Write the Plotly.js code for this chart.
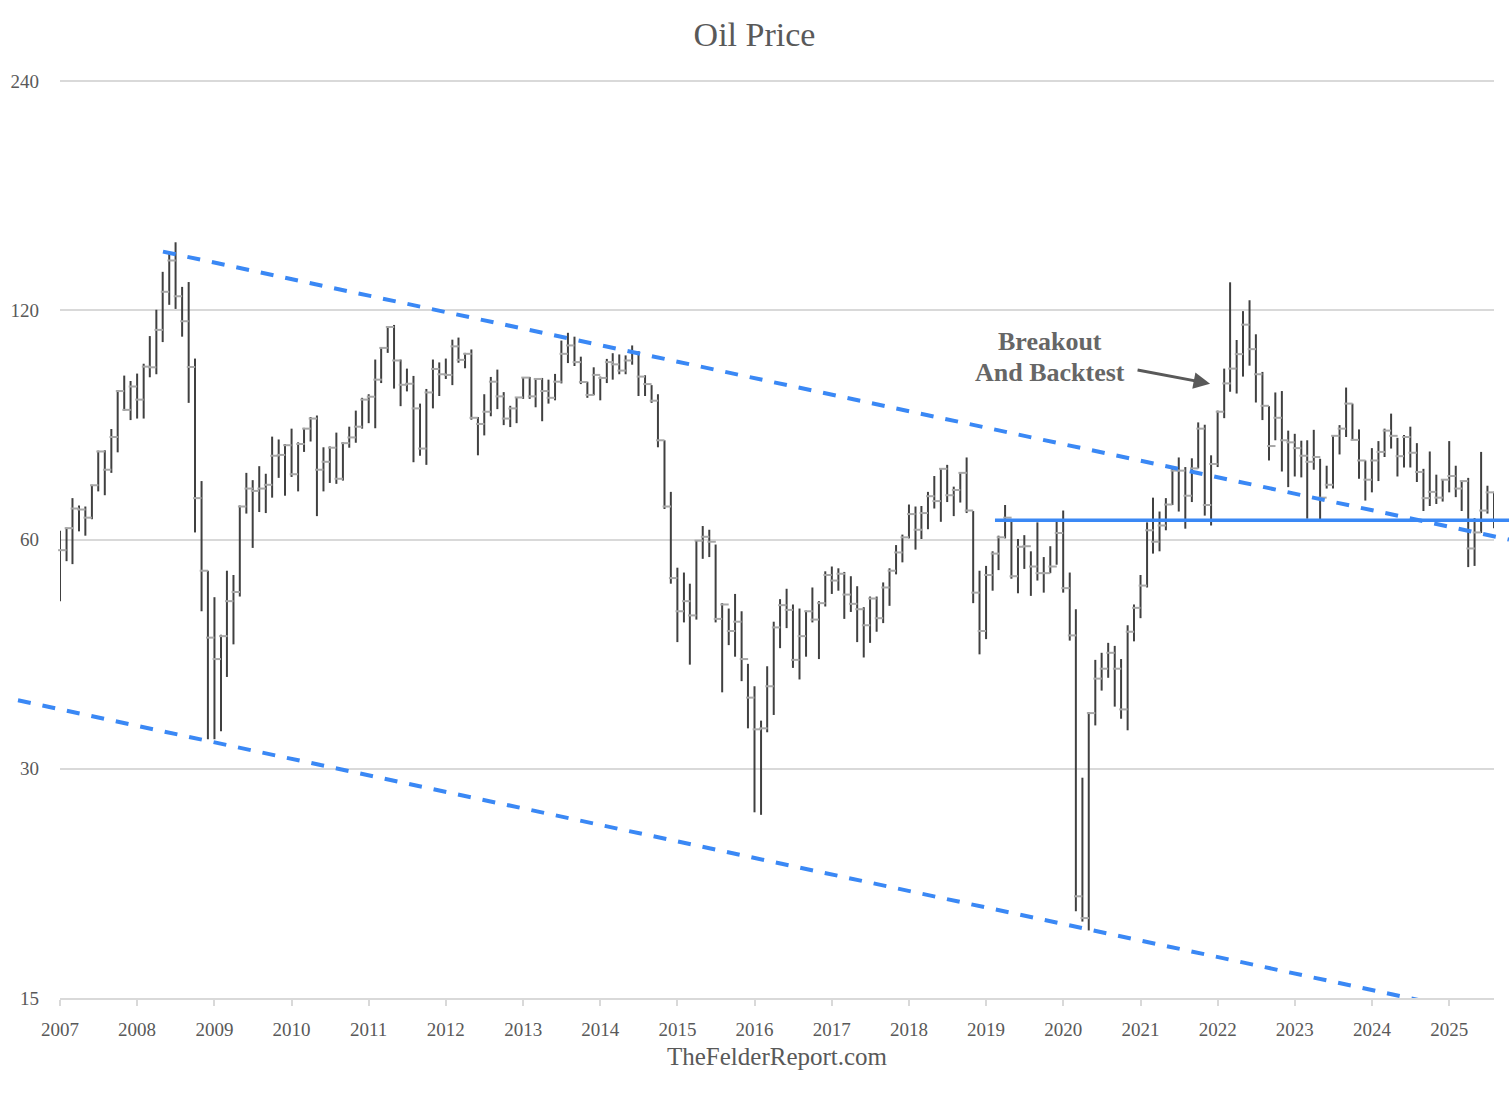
<!DOCTYPE html>
<html>
<head>
<meta charset="utf-8">
<script src="https://cdn.plot.ly/plotly-3.0.1.min.js"></script>
<style>
html,body{margin:0;padding:0;background:#ffffff;}
#chart{width:1509px;height:1093px;}
</style>
</head>
<body>
<div id="chart"></div>
<script>
// Monthly WTI bars, January 2007 .. August 2025
const START_YEAR = 2007;
const years = [2007,2008,2009,2010,2011,2012,2013,2014,2015,2016,2017,2018,2019,2020,2021,2022,2023,2024,2025];
const yTicks = [15, 30, 60, 120, 240];

const high = [
  61.6, 62.2, 68.0, 66.5, 66.3, 70.8, 78.5, 78.6, 83.8, 94.3, 98.5, 96.9,
  99.1, 102.1, 111.0, 120.2, 134.8, 142.9, 147.4, 128.8, 130.7, 103.7, 71.6, 54.6,
  50.4, 45.0, 54.6, 53.9, 66.5, 73.4, 71.8, 74.9, 73.2, 81.9, 81.2, 80.1,
  83.9, 80.5, 84.1, 86.9, 87.3, 79.3, 79.5, 82.9, 80.5, 84.4, 88.6, 92.1,
  93.1, 103.4, 107.3, 114.2, 114.8, 103.4, 100.6, 98.4, 90.5, 94.6, 103.4, 102.5,
  103.7, 109.8, 110.5, 105.5, 106.6, 86.9, 93.1, 98.1, 100.3, 93.7, 89.9, 92.2,
  98.0, 98.1, 97.6, 97.8, 97.3, 99.0, 109.5, 112.1, 110.8, 104.3, 96.7, 101.0,
  98.2, 103.6, 105.4, 105.0, 104.7, 107.9, 106.1, 98.6, 95.7, 93.1, 81.0, 69.3,
  55.1, 54.3, 52.5, 59.8, 62.5, 61.8, 59.1, 49.5, 48.7, 50.9, 48.3, 41.2,
  38.5, 34.7, 40.9, 46.8, 50.1, 51.7, 49.3, 48.7, 48.4, 51.9, 49.8, 54.5,
  55.3, 55.0, 54.4, 53.7, 52.1, 48.9, 50.5, 50.5, 52.7, 55.0, 59.0, 60.9,
  66.7, 66.3, 66.4, 69.3, 72.7, 74.3, 75.2, 70.4, 73.5, 76.9, 65.4, 54.6,
  55.4, 57.9, 60.7, 66.6, 63.4, 60.1, 60.8, 57.9, 63.2, 56.9, 58.8, 63.3,
  65.5, 54.3, 48.6, 29.2, 35.6, 41.7, 42.6, 43.9, 43.5, 41.8, 46.3, 49.3,
  53.9, 63.2, 68.1, 65.3, 68.0, 74.7, 76.9, 74.7, 76.7, 85.5, 84.9, 77.4,
  88.6, 100.6, 130.6, 109.7, 119.7, 123.7, 111.6, 99.6, 89.8, 93.6, 94.0, 83.4,
  82.6, 80.9, 81.0, 83.6, 76.6, 75.0, 82.1, 84.8, 95.0, 90.5, 83.7, 76.2,
  79.1, 80.8, 83.9, 87.8, 81.6, 82.3, 84.4, 80.3, 74.3, 78.3, 73.0, 71.9,
  80.8, 75.0, 71.6, 72.3, 64.0, 78.2, 70.6, 69.3
];

const low = [
  49.8, 56.2, 55.7, 61.5, 60.7, 63.8, 69.4, 68.6, 73.4, 78.1, 88.6, 86.1,
  86.5, 86.5, 98.0, 98.9, 109.0, 122.0, 120.5, 110.8, 90.7, 61.3, 48.3, 32.8,
  32.8, 33.6, 39.6, 43.7, 50.5, 64.9, 58.5, 65.2, 65.0, 68.1, 72.3, 68.5,
  72.5, 69.4, 78.2, 80.7, 64.4, 69.4, 71.2, 71.0, 71.7, 79.2, 80.4, 83.9,
  85.3, 84.0, 96.3, 105.5, 94.7, 89.8, 93.9, 75.8, 77.3, 75.2, 89.2, 92.6,
  97.5, 95.7, 102.4, 100.7, 86.2, 77.4, 82.2, 87.1, 89.0, 84.8, 84.3, 85.3,
  91.8, 91.8, 89.5, 85.8, 90.5, 91.4, 96.2, 102.3, 101.4, 96.0, 92.1, 92.8,
  91.4, 96.3, 97.3, 98.9, 98.9, 101.8, 92.6, 92.6, 90.7, 79.3, 65.8, 52.5,
  44.0, 46.7, 41.1, 47.1, 56.6, 56.9, 46.7, 37.8, 43.6, 42.1, 39.1, 33.9,
  26.3, 26.1, 33.5, 35.3, 43.2, 45.9, 40.7, 39.3, 42.1, 46.7, 41.8, 49.0,
  50.9, 51.4, 47.2, 48.2, 44.0, 42.0, 43.9, 45.4, 46.6, 49.1, 54.0, 56.0,
  60.2, 58.2, 60.1, 61.9, 65.9, 63.3, 67.2, 64.4, 67.1, 65.0, 49.5, 42.4,
  44.4, 51.4, 54.7, 60.2, 53.3, 51.0, 54.9, 50.6, 53.0, 51.1, 54.2, 55.6,
  51.1, 44.2, 19.5, 18.9, 18.4, 34.2, 38.0, 39.5, 36.2, 34.9, 33.7, 44.1,
  47.3, 51.9, 57.5, 57.9, 61.7, 66.6, 65.3, 62.0, 67.2, 74.4, 64.5, 62.6,
  74.7, 86.6, 93.8, 93.3, 98.2, 101.5, 90.8, 86.1, 76.2, 81.0, 73.7, 70.3,
  72.6, 72.4, 63.9, 74.1, 63.6, 70.0, 70.0, 77.6, 81.8, 81.0, 72.1, 67.5,
  69.2, 71.6, 77.0, 79.0, 72.6, 74.6, 74.6, 71.4, 65.4, 66.4, 66.8, 67.3,
  69.2, 68.2, 65.4, 55.2, 55.4, 61.2, 64.9, 62.1
];

const close = [
  58.1, 62.1, 65.9, 65.7, 64.1, 70.7, 78.3, 74.1, 81.8, 94.0, 88.8, 95.3,
  91.6, 101.2, 101.0, 113.1, 126.9, 139.5, 125.2, 116.1, 101.1, 68.0, 54.6, 44.6,
  41.8, 44.8, 49.8, 51.2, 66.3, 70.0, 69.5, 70.0, 70.8, 77.3, 77.5, 79.8,
  73.1, 80.1, 83.9, 86.5, 74.1, 75.9, 79.2, 72.1, 80.3, 81.7, 84.4, 91.6,
  92.4, 97.3, 107.1, 114.1, 103.1, 95.8, 96.1, 89.2, 79.0, 93.6, 100.5, 98.9,
  98.7, 107.6, 103.3, 105.2, 86.7, 85.1, 88.3, 96.7, 92.5, 86.5, 89.2, 92.2,
  97.9, 92.5, 97.5, 94.0, 92.1, 96.7, 105.2, 107.9, 102.6, 96.6, 92.9, 98.7,
  97.8, 102.6, 101.9, 100.0, 103.1, 105.7, 98.2, 96.0, 91.3, 81.0, 66.3, 53.4,
  48.3, 49.8, 47.7, 59.8, 60.5, 59.6, 47.2, 49.3, 45.5, 46.8, 41.8, 37.2,
  33.8, 33.9, 38.5, 46.0, 49.2, 48.5, 41.7, 44.8, 48.3, 47.1, 49.5, 53.9,
  53.0, 54.1, 50.8, 49.4, 48.6, 46.3, 50.2, 47.3, 51.9, 54.6, 57.7, 60.4,
  64.8, 61.8, 65.0, 68.4, 67.4, 74.3, 68.6, 69.7, 73.4, 65.5, 51.1, 45.5,
  53.9, 57.5, 60.4, 64.1, 53.7, 58.7, 58.8, 55.3, 54.2, 54.2, 55.3, 61.2,
  51.8, 44.9, 20.4, 19.1, 35.5, 39.4, 40.6, 42.6, 40.6, 35.9, 45.4, 48.8,
  52.2, 61.7, 59.6, 62.6, 66.7, 73.9, 73.9, 68.5, 74.4, 83.9, 66.6, 75.4,
  88.3, 96.2, 100.6, 105.1, 114.9, 106.7, 98.9, 89.9, 79.6, 86.7, 81.0, 80.5,
  79.1, 77.3, 75.9, 77.0, 68.1, 70.8, 82.1, 83.9, 90.5, 81.1, 76.2, 71.9,
  76.2, 78.2, 83.4, 82.1, 77.2, 81.8, 78.0, 73.6, 68.0, 69.3, 68.1, 71.9,
  72.7, 70.0, 71.6, 58.4, 61.3, 65.5, 69.2, 64.8
];

// Channel / support levels (price values)
const upperChannel = {start: 143.3, end: 60.0};
const lowerChannel = {start: 36.9, end: 14.06};
const supportLevel = 63.6;

function monthStr(i, day) {
  const y = START_YEAR + Math.floor(i / 12);
  const m = (i % 12) + 1;
  return y + '-' + String(m).padStart(2, '0') + '-' + day;
}

const barX = [], barY = [];
const closeX = [];
for (let i = 0; i < high.length; i++) {
  const d = monthStr(i, '01');
  barX.push(d, d, null);
  barY.push(low[i], high[i], null);
  closeX.push(monthStr(i, '12'));
}

const FONT = '"Liberation Serif", "Times New Roman", serif';
const TXT = '#595959';
const BLUE = '#3a88f5';

const traces = [
  {
    type: 'scatter', mode: 'lines', x: barX, y: barY,
    line: {color: '#404040', width: 2}, connectgaps: false,
    hoverinfo: 'skip', showlegend: false
  },
  {
    type: 'scatter', mode: 'markers', x: closeX, y: close,
    marker: {symbol: 'line-ew', size: 6, line: {color: '#a8a8a8', width: 2}},
    cliponaxis: false, hoverinfo: 'skip', showlegend: false
  }
];

const layout = {
  width: 1509, height: 1093,
  margin: {l: 60, r: 15, t: 79, b: 95},
  paper_bgcolor: '#ffffff', plot_bgcolor: '#ffffff',
  font: {family: FONT, color: TXT},
  title: {
    text: 'Oil Price', font: {family: FONT, size: 34, color: TXT},
    x: 0.5, xref: 'container', y: 0.969, yref: 'container', yanchor: 'middle'
  },
  xaxis: {
    type: 'date',
    range: ['2007-01-01', '2025-08-01'],
    tickmode: 'array',
    tickvals: years.map(y => y + '-01-01'),
    ticktext: years.map(String),
    ticks: 'outside', ticklen: 6, tickwidth: 2, tickcolor: '#d9d9d9',
    showline: true, linecolor: '#d9d9d9', linewidth: 2,
    showgrid: false, zeroline: false,
    tickfont: {family: FONT, size: 19, color: TXT},
    ticklabelstandoff: 7
  },
  yaxis: {
    type: 'log',
    range: [Math.log10(15), Math.log10(240) + 0.0027],
    tickmode: 'array',
    tickvals: yTicks,
    ticktext: yTicks.map(String),
    showgrid: true, gridcolor: '#d9d9d9', gridwidth: 2,
    showline: false, zeroline: false, ticks: '',
    tickfont: {family: FONT, size: 19, color: TXT},
    ticklabelstandoff: 20
  },
  shapes: [
    {type: 'line', xref: 'paper', yref: 'y', x0: 0.0718, x1: 1.0105,
     y0: upperChannel.start, y1: upperChannel.end,
     line: {color: BLUE, width: 4, dash: '13px,12px'}},
    {type: 'line', xref: 'paper', yref: 'y', x0: -0.0293, x1: 1.0105,
     y0: lowerChannel.start, y1: lowerChannel.end,
     line: {color: BLUE, width: 4, dash: '13px,12px'}},
    {type: 'line', xref: 'paper', yref: 'y', x0: 0.652, x1: 1.0105,
     y0: supportLevel, y1: supportLevel,
     line: {color: BLUE, width: 3.5}}
  ],
  annotations: [
    {text: '<b>Breakout</b>', xref: 'paper', yref: 'paper', x: 0.6904, y: 0.714,
     xanchor: 'center', yanchor: 'middle', showarrow: false,
     font: {family: FONT, size: 26, color: '#666666'}},
    {text: '<b>And Backtest</b>', xref: 'paper', yref: 'paper', x: 0.6904, y: 0.681,
     xanchor: 'center', yanchor: 'middle', showarrow: false,
     font: {family: FONT, size: 26, color: '#666666'}},
    {text: '', xref: 'paper', yref: 'paper', x: 0.8020, y: 0.6685,
     ax: -74, ay: -14, axref: 'pixel', ayref: 'pixel',
     showarrow: true, arrowhead: 2, arrowsize: 1.1, arrowwidth: 3, arrowcolor: '#595959', standoff: 0},
    {text: 'TheFelderReport.com', xref: 'paper', yref: 'paper', x: 0.5, y: -0.064,
     xanchor: 'center', yanchor: 'middle', showarrow: false,
     font: {family: FONT, size: 25, color: TXT}}
  ]
};

Plotly.newPlot('chart', traces, layout, {displayModeBar: false, staticPlot: true});
</script>
</body>
</html>
